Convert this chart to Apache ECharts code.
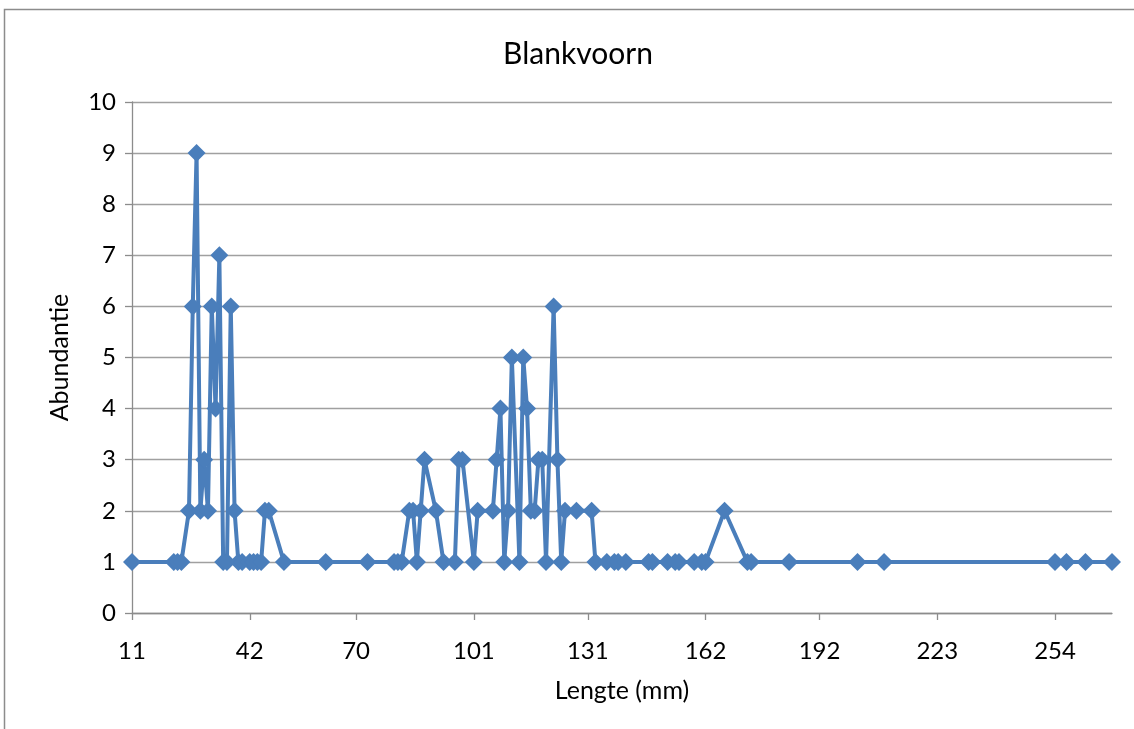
<!DOCTYPE html>
<html>
<head>
<meta charset="utf-8">
<title>Blankvoorn</title>
<script src="https://cdn.jsdelivr.net/npm/echarts@6/dist/echarts.min.js"></script>
<style>
  html, body { margin: 0; padding: 0; background: #ffffff; }
  #chart { width: 1134px; height: 729px; }
</style>
</head>
<body>
<div id="chart"></div>
<script>
// Lengths (mm) at which fish were counted, and the count at each length
const lengths = [
  11,
  22, 23, 24,
  26, 27, 28, 29, 30, 31, 32, 33, 34, 35, 36, 37, 38,
  39, 40, 42, 43, 44, 45, 46, 47, 51, 62, 73,
  80, 81, 82, 84, 85, 86, 87, 88, 91, 93, 96, 97, 98, 101, 102,
  106, 107, 108, 109, 110, 111, 113, 114, 115, 116, 117, 118, 119, 120,
  122, 123, 124, 125, 128, 132, 133,
  136, 138, 139, 141, 147, 148, 152, 154, 155, 159, 161, 162, 167,
  173, 174, 184, 202, 209, 254, 257, 262, 269
];
const counts = [
  1,
  1, 1, 1,
  2, 6, 9, 2, 3, 2, 6, 4, 7, 1, 1, 6, 2,
  1, 1, 1, 1, 1, 1, 2, 2, 1, 1, 1,
  1, 1, 1, 2, 2, 1, 2, 3, 2, 1, 1, 3, 3, 1, 2,
  2, 3, 4, 1, 2, 5, 1, 5, 4, 2, 2, 3, 3, 1,
  6, 3, 1, 2, 2, 2, 1,
  1, 1, 1, 1, 1, 1, 1, 1, 1, 1, 1, 1, 2,
  1, 1, 1, 1, 1, 1, 1, 1, 1
];

// Labelled positions on the length axis
const xTickLabels = ['11', '42', '70', '101', '131', '162', '192', '223', '254'];
// Abundance axis range
const yMin = 0, yMax = 10, yStep = 1;

// Every millimetre between the smallest and largest length is one slot on the
// axis, so lengths are spaced in proportion; empty slots are bridged by the line.
const minLen = lengths[0];
const maxLen = lengths[lengths.length - 1];
const axisCategories = [];
const seriesData = [];
const countByLength = {};
lengths.forEach((l, i) => { countByLength[l] = counts[i]; });
for (let l = minLen; l <= maxLen; l++) {
  axisCategories.push(String(l));
  seriesData.push(countByLength[l] !== undefined ? countByLength[l] : null);
}

const showTick = (index, value) => xTickLabels.indexOf(value) !== -1;
const fontFamily = 'Lato, "Liberation Sans", sans-serif';

const chart = echarts.init(document.getElementById('chart'), null, { renderer: 'canvas' });
chart.setOption({
  backgroundColor: '#ffffff',
  animation: false,
  textStyle: { fontFamily: fontFamily },
  title: {
    text: 'Blankvoorn',
    left: 573,
    top: 34,
    textAlign: 'center',
    textStyle: { fontFamily: fontFamily, fontSize: 30, fontWeight: 'normal', color: '#000000' }
  },
  graphic: [{
    type: 'rect',
    shape: { x: 4.5, y: 9.5, width: 1200, height: 800 },
    style: { fill: 'none', stroke: '#8c8c8c', lineWidth: 1.5 },
    silent: true
  }],
  grid: { left: 132, right: 22, top: 102, bottom: 116, containLabel: false },
  xAxis: {
    type: 'category',
    data: axisCategories,
    boundaryGap: false,
    name: 'Lengte (mm)',
    nameLocation: 'middle',
    nameGap: 65,
    nameTextStyle: { fontFamily: fontFamily, fontSize: 25, color: '#000000' },
    axisLine: { show: true, lineStyle: { color: '#8c8c8c', width: 1.3 } },
    axisTick: { show: true, interval: showTick, length: 7, lineStyle: { color: '#8c8c8c', width: 1.3 } },
    axisLabel: { show: true, interval: showTick, margin: 26, fontFamily: fontFamily, fontSize: 24, color: '#000000' },
    splitLine: { show: false }
  },
  yAxis: {
    type: 'value',
    min: yMin,
    max: yMax,
    interval: yStep,
    name: 'Abundantie',
    nameLocation: 'middle',
    nameGap: 60,
    nameRotate: 90,
    nameTextStyle: { fontFamily: fontFamily, fontSize: 25, color: '#000000' },
    axisLine: { show: true, lineStyle: { color: '#8c8c8c', width: 1.3 } },
    axisTick: { show: true, length: 7, lineStyle: { color: '#8c8c8c', width: 1.3 } },
    axisLabel: { margin: 16, fontFamily: fontFamily, fontSize: 24, color: '#000000' },
    splitLine: { show: true, lineStyle: { color: '#a0a0a0', width: 1.3 } }
  },
  series: [{
    type: 'line',
    data: seriesData,
    connectNulls: true,
    showAllSymbol: true,
    symbol: 'diamond',
    symbolSize: 18,
    lineStyle: { color: '#4a7ebb', width: 4 },
    itemStyle: { color: '#4a7ebb', borderWidth: 0 },
    emphasis: { disabled: true }
  }]
});
</script>
</body>
</html>
